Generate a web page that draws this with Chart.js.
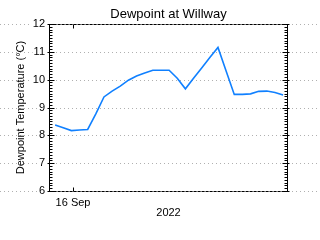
<!DOCTYPE html>
<html>
<head>
<meta charset="utf-8">
<style>
  html, body { margin: 0; padding: 0; background: #fff; }
  #wrap { width: 320px; height: 240px; }
</style>
<script src="https://cdn.jsdelivr.net/npm/chart.js@4/dist/chart.umd.min.js"></script>
</head>
<body>
<div id="wrap"><canvas id="dewChart" width="320" height="240"></canvas></div>
<script>
// hours relative to 16 Sep 2022 00:00
const hours = [-2.2, -1.2, -0.2, 0.8, 1.8, 2.8, 3.8, 4.8, 5.8, 6.8, 7.8, 8.8, 9.8, 10.8, 11.8,
  12.8, 13.8, 14.8, 15.8, 16.8, 17.8, 18.8, 19.8, 20.8, 21.8, 22.8, 23.8, 24.8, 25.8];
// dewpoint (°C)
const dewpoint = [8.37, 8.27, 8.17, 8.19, 8.21, 8.77, 9.38, 9.59, 9.77, 9.98, 10.13, 10.24, 10.34, 10.34, 10.34,
  10.05, 9.67, 10.05, 10.42, 10.80, 11.16, 10.31, 9.47, 9.47, 9.49, 9.58, 9.59, 9.54, 9.45];
const xTickValues = [0];
const xTickLabels = ['16 Sep'];
const yTickValues = [6, 7, 8, 9, 10, 11, 12];

const FONT = 'Liberation Sans';

// dotted grid across the whole picture + axis frame with minor ticks
const framePlugin = {
  id: 'frame',
  beforeDraw(chart){
    const { ctx, scales: { y } } = chart;
    ctx.save();
    ctx.strokeStyle = '#b0b0b0';
    ctx.lineWidth = 1;
    ctx.setLineDash([1, 3]);
    yTickValues.forEach(v => {
      const py = Math.round(y.getPixelForValue(v)) + 0.5;
      ctx.beginPath();
      ctx.moveTo(0, py);
      ctx.lineTo(chart.width, py);
      ctx.stroke();
    });
    ctx.restore();
  },
  afterDatasetsDraw(chart){
    const { ctx, chartArea: a, scales: { x, y } } = chart;
    const L = Math.round(a.left) + 0.5, R = Math.round(a.right) - 0.5;
    const T = Math.round(a.top) + 0.5, B = Math.round(a.bottom) + 0.5;
    ctx.save();
    ctx.strokeStyle = '#000';
    ctx.lineWidth = 1;
    // top / bottom dashed
    ctx.setLineDash([3, 1]);
    ctx.beginPath();
    ctx.moveTo(L, T); ctx.lineTo(R, T);
    ctx.moveTo(L, B); ctx.lineTo(R, B);
    ctx.stroke();
    ctx.setLineDash([]);
    // left / right solid
    ctx.beginPath();
    ctx.moveTo(L, T); ctx.lineTo(L, B);
    ctx.moveTo(R, T); ctx.lineTo(R, B);
    // y ticks, minor every 0.1
    for (let i = 60; i <= 120; i++) {
      const py = Math.round(y.getPixelForValue(i / 10)) + 0.5;
      const major = i % 10 === 0;
      const len = major ? 5 : 3;
      ctx.moveTo(L - (major ? 2 : 0), py); ctx.lineTo(L + len, py);
      ctx.moveTo(R + (major ? 2 : 0), py); ctx.lineTo(R - len, py);
    }
    // x ticks
    xTickValues.forEach(v => {
      const px = Math.round(x.getPixelForValue(v)) + 0.5;
      ctx.moveTo(px, B); ctx.lineTo(px, B - 4);
      ctx.moveTo(px, T); ctx.lineTo(px, T + 4);
    });
    ctx.stroke();
    ctx.restore();
  }
};

function initChart(){
  const ctx = document.getElementById('dewChart').getContext('2d');
  new Chart(ctx, {
    type: 'line',
    data: {
      datasets: [{
        label: 'Dewpoint',
        data: hours.map((h, i) => ({ x: h, y: dewpoint[i] })),
        borderColor: 'rgb(16,128,255)',
        borderWidth: 1.6,
        pointRadius: 0,
        tension: 0,
        fill: false
      }]
    },
    options: {
      responsive: false,
      animation: false,
      devicePixelRatio: 1,
      layout: { padding: { left: 0, right: 32, top: 0, bottom: 0 } },
      plugins: {
        legend: { display: false },
        tooltip: { enabled: false },
        title: {
          display: true,
          fullSize: false,
          text: 'Dewpoint at Willway',
          color: '#000',
          font: { family: FONT, size: 13, weight: 'normal', lineHeight: 1 },
          padding: { top: 8, bottom: 3 }
        }
      },
      scales: {
        x: {
          type: 'linear',
          min: -2.95,
          max: 26.4,
          grid: { display: false, drawTicks: false },
          border: { display: false },
          afterBuildTicks: s => { s.ticks = xTickValues.map(v => ({ value: v })); },
          afterFit: s => { s.height = 49; },
          ticks: {
            color: '#000',
            padding: 5,
            maxRotation: 0,
            font: { family: FONT, size: 11 },
            callback: v => xTickLabels[xTickValues.indexOf(v)] || ''
          },
          title: {
            display: true,
            text: '2022',
            color: '#000',
            font: { family: FONT, size: 11 },
            padding: { top: 0, bottom: 20 }
          }
        },
        y: {
          min: 6,
          max: 12,
          grid: { display: false, drawTicks: false },
          border: { display: false },
          afterBuildTicks: s => { s.ticks = yTickValues.map(v => ({ value: v })); },
          afterFit: s => { s.width = 49; },
          ticks: {
            color: '#000',
            padding: 4,
            font: { family: FONT, size: 11 },
            showLabelBackdrop: true,
            backdropColor: '#fff',
            backdropPadding: 1
          },
          title: {
            display: true,
            text: 'Dewpoint Temperature (°C)',
            color: '#000',
            font: { family: FONT, size: 11 },
            padding: { top: 14, bottom: 0 }
          }
        }
      }
    },
    plugins: [framePlugin]
  });
}

initChart();
</script>
</body>
</html>
